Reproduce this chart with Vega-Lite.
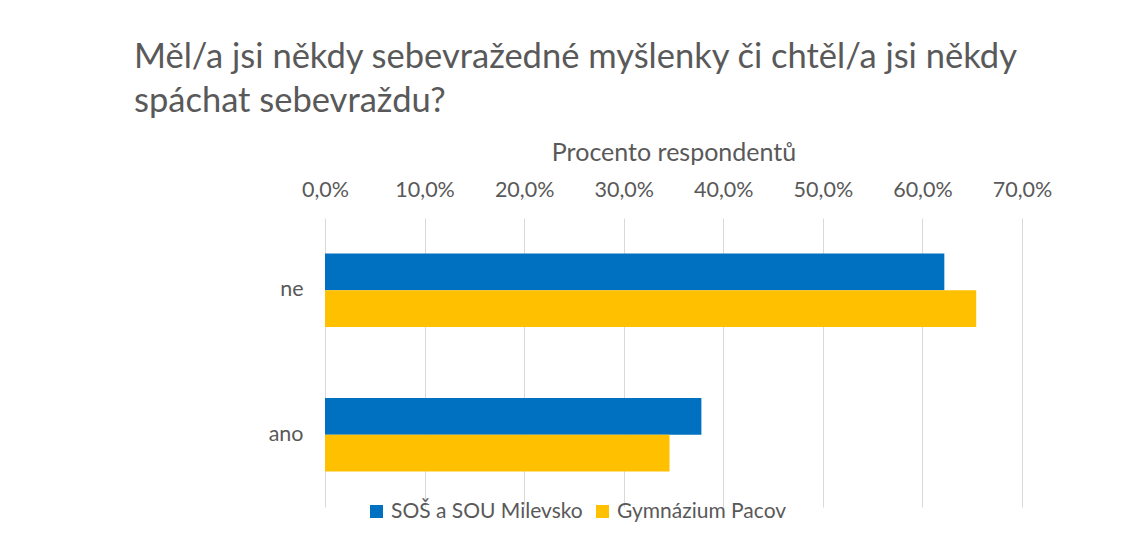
{
  "$schema": "https://vega.github.io/schema/vega-lite/v6.json",
  "width": 697,
  "height": 289,
  "autosize": {"type": "none"},
  "padding": {"left": 325, "top": 218, "right": 110, "bottom": 44},
  "background": "white",
  "title": {
    "text": ["Měl/a jsi někdy sebevražedné myšlenky či chtěl/a jsi někdy", "spáchat sebevraždu?"],
    "anchor": "start",
    "frame": "group",
    "dx": -191,
    "font": "Lato",
    "fontSize": 34.5,
    "fontWeight": "normal",
    "color": "#595959",
    "lineHeight": 44,
    "offset": 21
  },
  "data": {
    "values": [
      {"odpoved": "ne", "skola": "SOŠ a SOU Milevsko", "podil": 0.622},
      {"odpoved": "ne", "skola": "Gymnázium Pacov", "podil": 0.654},
      {"odpoved": "ano", "skola": "SOŠ a SOU Milevsko", "podil": 0.378},
      {"odpoved": "ano", "skola": "Gymnázium Pacov", "podil": 0.346}
    ]
  },
  "mark": {"type": "bar"},
  "encoding": {
    "y": {
      "field": "odpoved",
      "type": "nominal",
      "sort": ["ne", "ano"],
      "scale": {"paddingInner": 0.49, "paddingOuter": 0.245},
      "axis": {
        "title": null,
        "domain": false,
        "ticks": false,
        "labelFont": "Lato",
        "labelFontSize": 21.5,
        "labelColor": "#595959",
        "labelPadding": 22
      }
    },
    "yOffset": {
      "field": "skola",
      "type": "nominal",
      "sort": ["SOŠ a SOU Milevsko", "Gymnázium Pacov"]
    },
    "x": {
      "field": "podil",
      "type": "quantitative",
      "scale": {"domain": [0, 0.7], "nice": false},
      "axis": {
        "orient": "top",
        "title": "Procento respondentů",
        "titleFont": "Lato",
        "titleFontSize": 25,
        "titleFontWeight": "normal",
        "titleColor": "#595959",
        "titlePadding": 14,
        "values": [0, 0.1, 0.2, 0.3, 0.4, 0.5, 0.6, 0.7],
        "labelExpr": "replace(format(datum.value, '.1%'), '.', ',')",
        "labelFont": "Lato",
        "labelFontSize": 21.5,
        "labelColor": "#595959",
        "labelPadding": 17,
        "labelFlush": false,
        "labelOverlap": false,
        "domain": false,
        "ticks": false,
        "grid": true,
        "gridColor": "#d9d9d9",
        "gridWidth": 1
      }
    },
    "color": {
      "field": "skola",
      "type": "nominal",
      "sort": ["SOŠ a SOU Milevsko", "Gymnázium Pacov"],
      "scale": {"domain": ["SOŠ a SOU Milevsko", "Gymnázium Pacov"], "range": ["#0070C0", "#FFC000"]},
      "legend": {
        "title": null,
        "orient": "none",
        "direction": "horizontal",
        "legendX": 41,
        "legendY": 283,
        "symbolType": "square",
        "symbolSize": 170,
        "symbolStrokeWidth": 0,
        "labelFont": "Lato",
        "labelFontSize": 21,
        "labelColor": "#595959",
        "labelOffset": 4,
        "labelLimit": 400,
        "gridAlign": "none",
        "columnPadding": 9
      }
    }
  },
  "config": {
    "view": {"stroke": null}
  }
}
